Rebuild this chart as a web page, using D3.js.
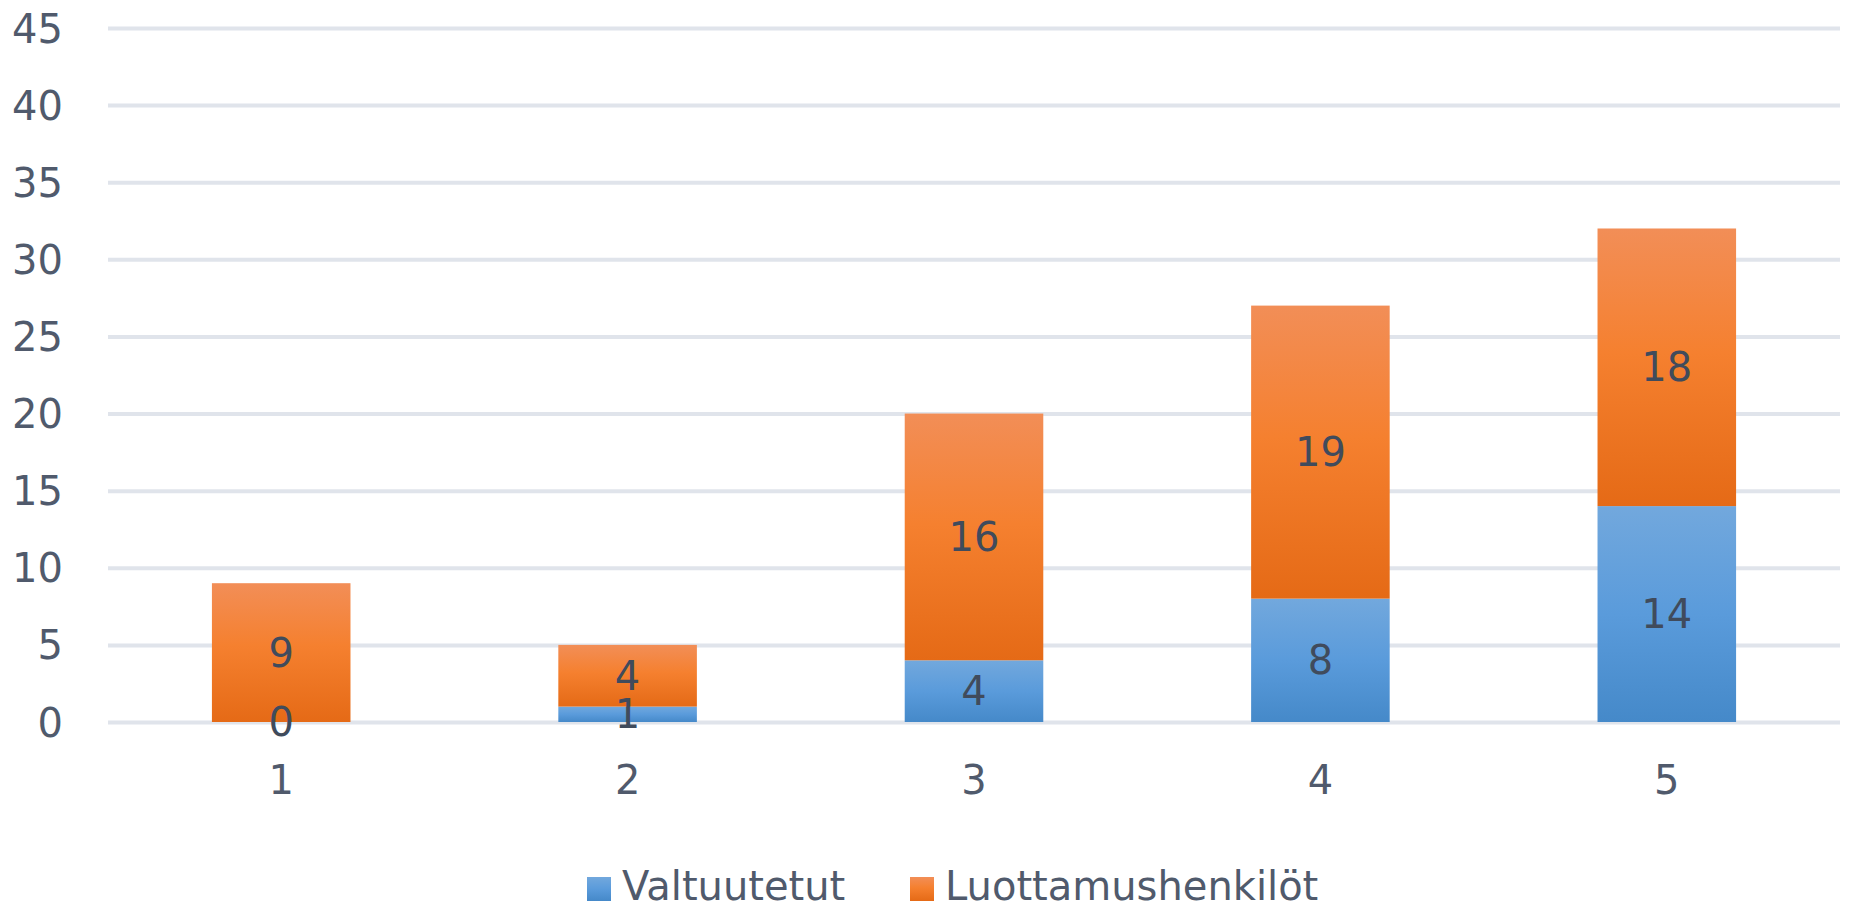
<!DOCTYPE html>
<html>
<head>
<meta charset="utf-8">
<script src="https://cdn.jsdelivr.net/npm/d3@7"></script>
<style>
  html, body { margin: 0; padding: 0; background: #ffffff; }
  svg { display: block; }
</style>
</head>
<body>
<svg id="chart" width="1858" height="907"></svg>
<script>
const categories = ["1", "2", "3", "4", "5"];
const seriesNames = ["Valtuutetut", "Luottamushenkilöt"];
const valtuutetut = [0, 1, 4, 8, 14];
const luottamushenkilot = [9, 4, 16, 19, 18];
const yTicks = [0, 5, 10, 15, 20, 25, 30, 35, 40, 45];

(function () {
const seriesValues = [valtuutetut, luottamushenkilot];
const table = categories.map((c, i) => ({
  cat: c,
  [seriesNames[0]]: valtuutetut[i],
  [seriesNames[1]]: luottamushenkilot[i]
}));

const svg = d3.select("#chart");
const plotLeft = 108, plotRight = 1840, plotTop = 28, plotBottom = 722;
const font = "'DejaVu Sans', Verdana, sans-serif";
const axisColor = "#505a6c";
const labelColor = "#404b5c";

const x = d3.scaleBand().domain(categories).range([plotLeft, plotRight]).paddingInner(0.6).paddingOuter(0.3);
const y = d3.scaleLinear().domain([0, 45]).range([plotBottom, plotTop]);

// gradients
const defs = svg.append("defs");
const gradSpecs = [
  { id: "gBlue", stops: [["0%", "#72a8dd"], ["50%", "#5a9bdb"], ["100%", "#4589c9"]] },
  { id: "gOrange", stops: [["0%", "#f28e57"], ["45%", "#f5802f"], ["100%", "#e56a16"]] }
];
gradSpecs.forEach(g => {
  const lg = defs.append("linearGradient").attr("id", g.id)
    .attr("x1", 0).attr("y1", 0).attr("x2", 0).attr("y2", 1);
  g.stops.forEach(s => lg.append("stop").attr("offset", s[0]).attr("stop-color", s[1]));
});
const fills = ["url(#gBlue)", "url(#gOrange)"];

// gridlines + y labels
const yAxisG = svg.append("g")
  .attr("transform", `translate(${plotLeft},0)`)
  .call(d3.axisLeft(y).tickValues(yTicks).tickSize(-(plotRight - plotLeft)).tickFormat(d3.format("d")).tickPadding(45));
yAxisG.select(".domain").remove();
yAxisG.selectAll(".tick line").attr("stroke", "#e0e4eb").attr("stroke-width", 4);
yAxisG.selectAll(".tick text")
  .attr("fill", axisColor).attr("font-size", 40).attr("font-family", font)
  .attr("dy", "0.35em");

// stacked bars
const stacked = d3.stack().keys(seriesNames)(table);

const layers = svg.append("g").selectAll("g").data(stacked).join("g")
  .attr("fill", (d, i) => fills[i]);
layers.selectAll("rect").data(d => d).join("rect")
  .attr("x", d => x(d.data.cat))
  .attr("width", x.bandwidth())
  .attr("y", d => y(d[1]))
  .attr("height", d => Math.max(0, y(d[0]) - y(d[1])));

// data labels
const labelsG = svg.append("g");
stacked.forEach((layer, si) => {
  labelsG.append("g").selectAll("text").data(layer).join("text")
    .attr("x", d => x(d.data.cat) + x.bandwidth() / 2)
    .attr("y", d => (y(d[0]) + y(d[1])) / 2)
    .attr("dy", "0.35em")
    .attr("text-anchor", "middle")
    .attr("font-size", 40)
    .attr("font-family", font)
    .attr("fill", labelColor)
    .text((d, i) => seriesValues[si][i]);
});

// x axis labels
const xAxisG = svg.append("g")
  .attr("transform", `translate(0,${plotBottom})`)
  .call(d3.axisBottom(x).tickSize(0).tickPadding(44));
xAxisG.select(".domain").remove();
xAxisG.selectAll(".tick text")
  .attr("fill", axisColor).attr("font-size", 40).attr("font-family", font)
  .attr("dy", "0.71em");

// legend
const legendItems = [
  { name: seriesNames[0], sx: 587, tx: 622 },
  { name: seriesNames[1], sx: 910, tx: 945 }
];
const lg = svg.append("g");
legendItems.forEach((it, i) => {
  lg.append("rect").attr("x", it.sx).attr("y", 877).attr("width", 24).attr("height", 24)
    .attr("fill", fills[i]);
  lg.append("text").attr("x", it.tx).attr("y", 900)
    .attr("font-size", 40).attr("font-family", font).attr("fill", axisColor)
    .text(it.name);
});
})();
</script>
</body>
</html>
